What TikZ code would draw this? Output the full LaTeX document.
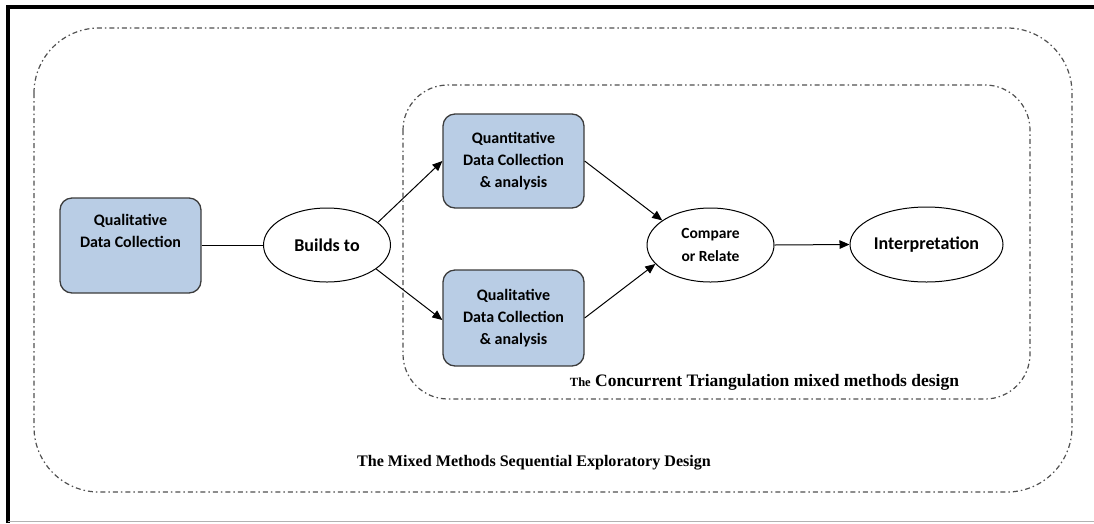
\documentclass[tikz,border=0pt]{standalone}
\usepackage{fontspec}
\setmainfont{Carlito}
\newfontfamily\titlefont{Liberation Serif}
\usetikzlibrary{arrows.meta,shapes.geometric}
\definecolor{boxfill}{HTML}{B9CDE5}
\definecolor{boxline}{HTML}{3C3C3C}
\definecolor{frameline}{HTML}{505050}
\tikzset{
  stepbox/.style={draw=boxline, line width=1.3pt, fill=boxfill, rounded corners=12pt,
    minimum width=141pt, align=center, font=\bfseries\fontsize{16}{22}\selectfont},
  boxtext/.style={align=center, inner sep=0pt, font=\bfseries\fontsize{16}{22}\selectfont},
  oval/.style={draw=black, line width=1pt, ellipse, align=center,
    font=\bfseries\fontsize{18}{22}\selectfont, inner sep=0pt},
  flow/.style={draw=black, line width=1pt, -{Triangle[length=10pt,width=8.5pt]}},
  groupline/.style={draw=frameline, line width=1.2pt,
    dash pattern=on 5pt off 3pt on 1.5pt off 3pt},
  caption/.style={font=\titlefont\bfseries, inner sep=0pt}
}
\begin{document}
\begin{tikzpicture}[x=1pt, y=-1pt]
  \useasboundingbox (0,0) rectangle (1094,523);
  % page frame
  \draw[black, line width=4pt] (8,523) -- (8,7) -- (1094,7);
  \draw[gray!60, line width=1pt] (8,521.5) -- (1094,521.5);

  % dash-dot group outlines
  \draw[groupline, rounded corners=65pt] (34,28) rectangle (1072,492);
  \draw[groupline, rounded corners=45pt] (403,85) rectangle (1030,399);

  % boxes
  \node[stepbox, minimum height=95pt] (qual) at (130.5,245.5) {};
  \node[boxtext] (qualtxt) at (130.5,231) {Qualitative\\Data Collection};
  \node[stepbox, minimum height=94pt] (quant) at (513.5,161) {Quantitative\\Data Collection\\\& analysis};
  \node[stepbox, minimum height=96pt] (qual2) at (513.5,318) {Qualitative\\Data Collection\\\& analysis};

  % ellipses
  \node[oval, minimum width=127pt, minimum height=74pt] (builds) at (327,245) {Builds to};
  \node[oval, minimum width=127pt, minimum height=74pt,
        font=\bfseries\fontsize{15.5}{23}\selectfont] (cmp) at (710.5,245) {Compare\\or Relate};
  \node[oval, minimum width=153pt, minimum height=75pt] (interp) at (926.5,244.5) {Interpretation};

  % connectors
  \draw[black, line width=1pt] (qual.east |- builds.west) -- (builds.west);
  \draw[flow] (builds.24) -- (quant.west);
  \draw[flow] (builds.-26) -- ([yshift=-2pt]qual2.west);
  \draw[flow] (quant.east) -- (cmp.153);
  \draw[flow] (qual2.east) -- (cmp.-161);
  \draw[flow] (cmp.east) -- (interp.west);

  % captions
  \node[caption, font=\titlefont\bfseries\fontsize{17.5}{20}\selectfont] (capin) at (764.5,382)
    {{\fontsize{12.5}{14}\selectfont The} Concurrent Triangulation mixed methods design};
  \node[caption, font=\titlefont\bfseries\fontsize{16.1}{19}\selectfont] (capout) at (534,463)
    {The Mixed Methods Sequential Exploratory Design};
\end{tikzpicture}
\end{document}
